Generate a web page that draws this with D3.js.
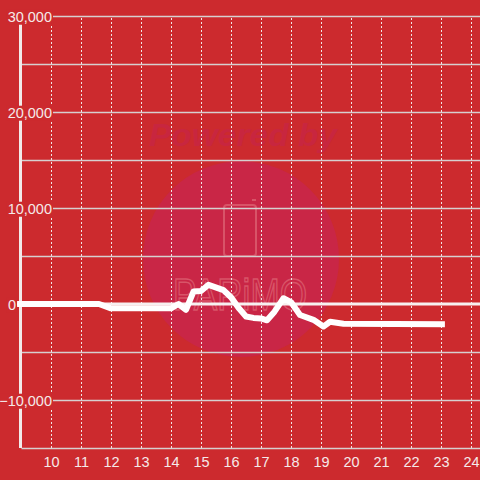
<!DOCTYPE html>
<html>
<head>
<meta charset="utf-8">
<script src="https://cdn.jsdelivr.net/npm/d3@7"></script>
<style>
  body { margin: 0; background: #cc2a2e; }
  text { font-family: "Liberation Sans", Arial, sans-serif; }
</style>
</head>
<body>
<svg id="chart" width="480" height="480"></svg>
<script>
// hour of day and value of the series
const hours = [8.87, 11.6, 12.0, 14.0, 14.25, 14.5, 14.75, 15.0, 15.25, 15.75, 16.0, 16.25, 16.5, 16.75, 17.0, 17.2, 17.45, 17.75, 18.0, 18.3, 18.75, 19.08, 19.3, 19.75, 23.13];
const values = [0, 0, -450, -450, 0, -600, 1300, 1350, 2000, 1450, 700, -400, -1300, -1450, -1500, -1700, -800, 600, 200, -1150, -1650, -2350, -1850, -2050, -2100];

const xTicks = [10, 11, 12, 13, 14, 15, 16, 17, 18, 19, 20, 21, 22, 23, 24];
const yTicks = [-10000, 0, 10000, 20000, 30000];
const yGridValues = [-10000, -5000, 5000, 10000, 15000, 20000, 25000, 30000];

const svg = d3.select('#chart');
const width = +svg.attr('width');
const height = +svg.attr('height');
const margin = { top: 16, right: 0, bottom: 32, left: 21 };

const xScale = d3.scaleLinear()
    .domain([9, 24.3])
    .range([margin.left, width - margin.right]);

const yScale = d3.scaleLinear()
    .domain([-15000, 30000])
    .range([height - margin.bottom, margin.top]);

svg.append('rect')
    .attr('width', width)
    .attr('height', height)
    .attr('fill', '#cc2a2e');

// watermark
const wm = svg.append('g');
wm.append('text')
    .attr('x', 243)
    .attr('y', 146)
    .attr('text-anchor', 'middle')
    .attr('font-size', 32)
    .attr('font-weight', 'bold')
    .attr('font-style', 'italic')
    .attr('textLength', 188)
    .attr('lengthAdjust', 'spacingAndGlyphs')
    .attr('fill', '#c8263f')
    .text('Powered by');
wm.append('circle')
    .attr('cx', 241)
    .attr('cy', 259)
    .attr('r', 98)
    .attr('fill', '#c92646');
wm.append('rect')
    .attr('x', 224)
    .attr('y', 205)
    .attr('width', 32)
    .attr('height', 51)
    .attr('rx', 3)
    .attr('fill', 'none')
    .attr('stroke', '#d85468')
    .attr('stroke-width', 2);
wm.append('line')
    .attr('x1', 252).attr('x2', 256)
    .attr('y1', 200).attr('y2', 200)
    .attr('stroke', '#d85468')
    .attr('stroke-width', 2);
wm.append('text')
    .attr('x', 240)
    .attr('y', 310)
    .attr('text-anchor', 'middle')
    .attr('font-size', 44)
    .attr('textLength', 134)
    .attr('lengthAdjust', 'spacingAndGlyphs')
    .attr('fill', 'none')
    .attr('stroke', '#d85468')
    .attr('stroke-width', 1.5)
    .text('PARiMO');

// horizontal grid lines
const yGrid = svg.append('g')
    .attr('transform', `translate(${margin.left},0)`)
    .call(d3.axisRight(yScale).tickValues(yGridValues).tickSize(width - margin.left - margin.right).tickFormat(''));
yGrid.select('.domain').remove();
yGrid.selectAll('line')
    .attr('stroke', '#d6d0d0')
    .attr('stroke-width', 1.5);

// vertical dashed grid lines
const xGrid = svg.append('g')
    .attr('transform', `translate(0,${height - margin.bottom})`)
    .call(d3.axisBottom(xScale).tickValues(xTicks).tickSize(-(height - margin.top - margin.bottom)).tickFormat(''));
xGrid.select('.domain').remove();
xGrid.selectAll('line')
    .attr('stroke', '#f0e6e6')
    .attr('stroke-width', 1)
    .attr('stroke-dasharray', '2,2');

// x axis
const xAxis = svg.append('g')
    .attr('transform', `translate(0,${height - margin.bottom})`)
    .call(d3.axisBottom(xScale).tickValues(xTicks).tickSize(0).tickPadding(9));
xAxis.select('.domain')
    .attr('stroke', '#d6d0d0')
    .attr('stroke-width', 1.5);
xAxis.selectAll('text')
    .attr('font-size', 14.5)
    .attr('fill', '#f5e9e9');

// zero line
svg.append('line')
    .attr('x1', margin.left - 4)
    .attr('x2', width)
    .attr('y1', yScale(0))
    .attr('y2', yScale(0))
    .attr('stroke', '#f7f0f0')
    .attr('stroke-width', 3);

// y axis line
svg.append('line')
    .attr('x1', margin.left - 0.5)
    .attr('x2', margin.left - 0.5)
    .attr('y1', margin.top)
    .attr('y2', height - margin.bottom)
    .attr('stroke', '#f2eaea')
    .attr('stroke-width', 3);

// y axis labels with background boxes
const yAxis = svg.append('g')
    .attr('transform', `translate(${margin.left},0)`)
    .call(d3.axisLeft(yScale).tickValues(yTicks).tickSize(0).tickFormat(d3.format(',')));
yAxis.select('.domain').remove();
yAxis.selectAll('text')
    .attr('font-size', 14.5)
    .attr('fill', '#f5e9e9')
    .attr('text-anchor', 'end')
    .attr('x', d => d === 0 ? -5 : 31)
    .attr('dy', '0.36em');
yAxis.selectAll('.tick').each(function () {
    const t = d3.select(this).select('text');
    const b = t.node().getBBox();
    d3.select(this).insert('rect', 'text')
        .attr('x', b.x - 1)
        .attr('y', b.y + 1)
        .attr('width', b.width + 2)
        .attr('height', b.height - 1)
        .attr('fill', '#cc2a2e');
});

// series line
const line = d3.line()
    .x(d => xScale(d.h))
    .y(d => yScale(d.v));

svg.append('path')
    .datum(hours.map((h, i) => ({ h, v: values[i] })))
    .attr('d', line)
    .attr('fill', 'none')
    .attr('stroke', '#ffffff')
    .attr('stroke-width', 6)
    .attr('stroke-linejoin', 'round')
    .attr('stroke-linecap', 'butt');
</script>
</body>
</html>
